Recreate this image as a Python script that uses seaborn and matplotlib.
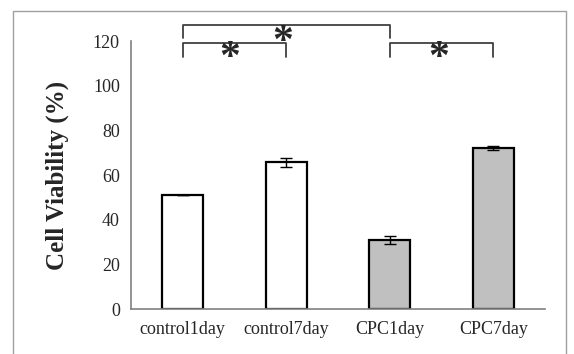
import matplotlib
matplotlib.use("Agg")
import matplotlib.pyplot as plt
import seaborn as sns
import pandas as pd
import numpy as np
from matplotlib.patches import Rectangle

categories = ["control1day", "control7day", "CPC1day", "CPC7day"]
values = [51.2, 65.7, 30.9, 72.0]
errors = [0.0, 2.0, 2.0, 1.0]
bar_colors = ["#ffffff", "#ffffff", "#c0c0c0", "#c0c0c0"]
yticks = [0, 20, 40, 60, 80, 100, 120]
ylabel = "Cell Viability (%)"
# significance pairs (category index a, b, bracket height, leg bottom)
sig_pairs = [(0, 1, 119, 113), (0, 2, 127, 121.5), (2, 3, 119, 113)]
sig_star_x = [0.45, 0.97, 2.47]
sig_star_y = [112.0, 119.2, 111.8]

sns.set_style("white")
plt.rcParams["font.family"] = ["Liberation Serif", "DejaVu Serif"]

df = pd.DataFrame({"cat": categories, "val": values})

fig = plt.figure(figsize=(5.74, 3.54), dpi=100)
ax = fig.add_axes([131/574, 1-309/354, (545-131)/574, (309-41)/354])

sns.barplot(data=df, x="cat", y="val", hue="cat", palette=bar_colors,
            order=categories, hue_order=categories, legend=False,
            edgecolor="black", linewidth=1.6, width=0.4, ax=ax, errorbar=None,
            saturation=1)

ax.errorbar(np.arange(len(categories)), values, yerr=errors, fmt="none",
            ecolor="black", elinewidth=1.0, capsize=4.5, capthick=1.0, zorder=5)

ax.set_xlim(-0.5, 3.5)
ax.set_ylim(0, 120)
ax.set_yticks(yticks)
ax.set_xlabel("")
ax.set_ylabel(ylabel, fontsize=18, fontweight="bold", labelpad=17)
ax.tick_params(axis="y", direction="in", length=5, width=1, color="#808080",
               labelsize=13, pad=8)
ax.tick_params(axis="x", which="major", length=0, labelsize=13, pad=9)
ax.set_xticks([0.5, 1.5, 2.5, 3.5], minor=True)
ax.tick_params(axis="x", which="minor", direction="in", length=5, width=1,
               color="#808080")
for s in ["top", "right"]:
    ax.spines[s].set_visible(False)
for s in ["left", "bottom"]:
    ax.spines[s].set_color("#808080")
    ax.spines[s].set_linewidth(1.2)

for (a, b, h, leg), sx, sy in zip(sig_pairs, sig_star_x, sig_star_y):
    ax.plot([a, a, b, b], [leg, h, h, leg], color="#404040", lw=1.3,
            clip_on=False)
    ax.text(sx, sy, "*", ha="center", va="center", fontsize=30,
            fontweight="bold", clip_on=False)

fig.patches.append(Rectangle((13/574, -0.01), (566-13)/574, 1 - 11/354 + 0.01,
                             transform=fig.transFigure, fill=False,
                             edgecolor="#a0a0a0", linewidth=1.0))

fig.savefig("out.png", dpi=100)
